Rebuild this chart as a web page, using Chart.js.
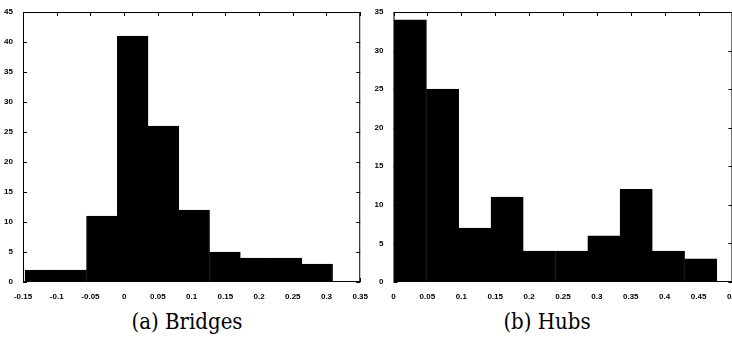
<!DOCTYPE html>
<html>
<head>
<meta charset="utf-8">
<script src="https://cdn.jsdelivr.net/npm/chart.js@4/dist/chart.umd.min.js"></script>
<style>
  html, body { margin: 0; padding: 0; background: #fff; overflow: hidden; }
  body { width: 732px; height: 354px; position: relative; }
  canvas { position: absolute; top: 0; }
  .cap { position: absolute; top: 309px; font-family: "DejaVu Serif Condensed", "DejaVu Serif", serif;
         font-stretch: condensed; font-size: 22px; color: #000; transform: translateX(-50%); white-space: nowrap; }
</style>
</head>
<body>
<canvas id="bridges" width="370" height="300" style="left:0px"></canvas>
<canvas id="hubs" width="370" height="300" style="left:370px"></canvas>
<div class="cap" style="left:187px">(a) Bridges</div>
<div class="cap" style="left:547px">(b) Hubs</div>
<script>
// ---- data ----
// bin centres and counts, (a) Bridges
const bridgeBins   = [-0.1242, -0.0786, -0.033, 0.0126, 0.0582, 0.1038, 0.1494, 0.195, 0.2406, 0.2862];
const bridgeCounts = [2, 2, 11, 41, 26, 12, 5, 4, 4, 3];
const bridgeXTicks = [-0.15, -0.1, -0.05, 0, 0.05, 0.1, 0.15, 0.2, 0.25, 0.3, 0.35];
const bridgeYTicks = [0, 5, 10, 15, 20, 25, 30, 35, 40, 45];

// (b) Hubs
const hubBins   = [0.0248, 0.0724, 0.12, 0.1676, 0.2152, 0.2628, 0.3104, 0.358, 0.4056, 0.4532];
const hubCounts = [34, 25, 7, 11, 4, 4, 6, 12, 4, 3];
const hubXTicks = [0, 0.05, 0.1, 0.15, 0.2, 0.25, 0.3, 0.35, 0.4, 0.45, 0.5];
const hubYTicks = [0, 5, 10, 15, 20, 25, 30, 35];

// matlab style box with inward ticks on all four sides
const boxPlugin = {
  id: 'box',
  afterDatasetsDraw(chart) {
    const ctx = chart.ctx, a = chart.chartArea;
    const xs = chart.scales.x, ys = chart.scales.y;
    ctx.save();
    ctx.strokeStyle = '#000';
    ctx.lineWidth = 1;
    ctx.strokeRect(a.left + 0.5, a.top + 0.5, a.right - a.left - 1, a.bottom - a.top - 1);
    ctx.beginPath();
    xs.ticks.forEach(t => {
      const px = Math.round(xs.getPixelForValue(t.value)) + 0.5;
      ctx.moveTo(px, a.bottom); ctx.lineTo(px, a.bottom - 4);
      ctx.moveTo(px, a.top); ctx.lineTo(px, a.top + 4);
    });
    ys.ticks.forEach(t => {
      const py = Math.round(ys.getPixelForValue(t.value)) + 0.5;
      ctx.moveTo(a.left, py); ctx.lineTo(a.left + 4, py);
      ctx.moveTo(a.right, py); ctx.lineTo(a.right - 4, py);
    });
    ctx.stroke();
    ctx.restore();
  }
};

function fmt(v) { return String(+v.toFixed(2)); }

function makeHist(id, bins, counts, xTicks, yTicks, yAxisW, padRight) {
  const tickFont = { family: 'Liberation Sans, Arial, sans-serif', size: 8, weight: 'bold' };
  return new Chart(document.getElementById(id).getContext('2d'), {
    type: 'bar',
    plugins: [boxPlugin],
    data: {
      datasets: [{
        data: bins.map((b, i) => ({ x: b, y: counts[i] })),
        backgroundColor: '#000',
        borderColor: '#000',
        borderWidth: 1,
        barPercentage: 1,
        categoryPercentage: 1
      }]
    },
    options: {
      responsive: false,
      devicePixelRatio: 1,
      animation: false,
      layout: { padding: { top: 12, right: padRight, left: 0, bottom: 0 } },
      plugins: { legend: { display: false }, tooltip: { enabled: false } },
      scales: {
        x: {
          type: 'linear',
          offset: false,
          min: xTicks[0],
          max: xTicks[xTicks.length - 1],
          grid: { display: false, offset: false },
          border: { display: false },
          afterBuildTicks: s => { s.ticks = xTicks.map(v => ({ value: v })); },
          afterFit: s => { s.height = 18; },
          ticks: { font: tickFont, color: '#000', padding: 2, maxRotation: 0, autoSkip: false, callback: fmt }
        },
        y: {
          min: yTicks[0],
          max: yTicks[yTicks.length - 1],
          grid: { display: false },
          border: { display: false },
          afterBuildTicks: s => { s.ticks = yTicks.map(v => ({ value: v })); },
          afterFit: s => { s.width = yAxisW; },
          ticks: { font: tickFont, color: '#000', padding: 2, autoSkip: false, callback: fmt }
        }
      }
    }
  });
}

makeHist('bridges', bridgeBins, bridgeCounts, bridgeXTicks, bridgeYTicks, 23, 7);
makeHist('hubs', hubBins, hubCounts, hubXTicks, hubYTicks, 23.5, 6);
</script>
</body>
</html>
